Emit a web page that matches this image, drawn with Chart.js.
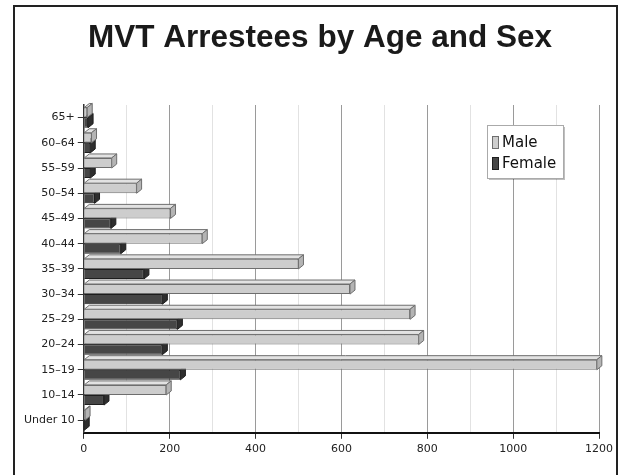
<!DOCTYPE html>
<html>
<head>
<meta charset="utf-8">
<script src="https://cdn.jsdelivr.net/npm/chart.js@4/dist/chart.umd.min.js"></script>
<style>
    html, body { margin: 0; padding: 0; background: #fff; }
    #wrap { width: 620px; height: 475px; }
</style>
</head>
<body>
<div id="wrap"><canvas id="arrestChart" width="620" height="475"></canvas></div>
<script>
// Data (bottom to top)
const ageGroups = ['Under 10', '10–14', '15–19', '20–24', '25–29', '30–34', '35–39',
    '40–44', '45–49', '50–54', '55–59', '60–64', '65+'];
const maleCounts = [3, 192, 1195, 780, 760, 620, 500, 276, 202, 123, 65, 18, 8];
const femaleCounts = [1, 47, 225, 183, 218, 183, 140, 86, 63, 25, 15, 15, 10];
const chartTitle = 'MVT Arrestees by Age and Sex';
const xMax = 1200;
const xStep = 100;
const labelStep = 200;

// 3D offset of the bar extrusion
const DEPTH_X = 5;
const DEPTH_Y = -4;

// Page frame, white background and title
const framePlugin = {
    id: 'frame',
    beforeDraw(chart) {
        const ctx = chart.ctx;
        ctx.save();
        ctx.fillStyle = '#fff';
        ctx.fillRect(0, 0, chart.width, chart.height);
        ctx.strokeStyle = '#222';
        ctx.lineWidth = 2;
        ctx.strokeRect(14, 6, 603, 480);
        ctx.fillStyle = '#1a1a1a';
        ctx.font = 'bold 31.5px "Liberation Sans", Arial, sans-serif';
        ctx.textAlign = 'center';
        ctx.textBaseline = 'alphabetic';
        ctx.fillText(chartTitle, 320, 47);
        ctx.restore();
    }
};

function poly(ctx, pts, fill, stroke) {
    ctx.beginPath();
    ctx.moveTo(pts[0][0], pts[0][1]);
    for (let i = 1; i < pts.length; i++) ctx.lineTo(pts[i][0], pts[i][1]);
    ctx.closePath();
    ctx.fillStyle = fill;
    ctx.fill();
    ctx.strokeStyle = stroke;
    ctx.lineWidth = 1;
    ctx.stroke();
}

// Top and side faces for each bar
const extrudePlugin = {
    id: 'extrude',
    afterDatasetDraw(chart, args) {
        const ctx = chart.ctx;
        const ds = chart.data.datasets[args.index];
        ctx.save();
        args.meta.data.forEach(bar => {
            const p = bar.getProps(['x', 'y', 'base', 'height'], true);
            const top = p.y - p.height / 2;
            const bot = p.y + p.height / 2;
            poly(ctx, [[p.base, top], [p.x, top], [p.x + DEPTH_X, top + DEPTH_Y], [p.base + DEPTH_X, top + DEPTH_Y]],
                ds.topColor, ds.borderColor);
            poly(ctx, [[p.x, top], [p.x, bot], [p.x + DEPTH_X, bot + DEPTH_Y], [p.x + DEPTH_X, top + DEPTH_Y]],
                ds.sideColor, ds.borderColor);
        });
        ctx.restore();
    }
};

// Boxed legend inside the plot
const boxLegendPlugin = {
    id: 'boxLegend',
    afterDraw(chart) {
        const ctx = chart.ctx;
        const x = 487, y = 125, w = 76, h = 53;
        ctx.save();
        ctx.fillStyle = 'rgba(0,0,0,0.25)';
        ctx.fillRect(x + 2, y + 2, w, h);
        ctx.fillStyle = '#fff';
        ctx.fillRect(x, y, w, h);
        ctx.strokeStyle = '#aaa';
        ctx.lineWidth = 1;
        ctx.strokeRect(x + 0.5, y + 0.5, w, h);
        ctx.font = '15px "DejaVu Sans"';
        ctx.textBaseline = 'alphabetic';
        chart.data.datasets.forEach((ds, i) => {
            const sy = y + 11 + i * 21;
            ctx.fillStyle = ds.backgroundColor;
            ctx.fillRect(x + 5, sy, 6, 12);
            ctx.strokeStyle = ds.borderColor;
            ctx.strokeRect(x + 5.5, sy + 0.5, 6, 12);
            ctx.fillStyle = '#111';
            ctx.fillText(ds.label, x + 15, sy + 11);
        });
        ctx.restore();
    }
};

new Chart(document.getElementById('arrestChart'), {
    type: 'bar',
    data: {
        labels: ageGroups,
        datasets: [
            {
                label: 'Male',
                data: maleCounts,
                backgroundColor: '#cdcdcd',
                borderColor: '#6e6e6e',
                topColor: '#e2e2e2',
                sideColor: '#b4b4b4',
                borderWidth: 1,
                borderSkipped: 'start'
            },
            {
                label: 'Female',
                data: femaleCounts,
                backgroundColor: '#464646',
                borderColor: '#1e1e1e',
                topColor: '#5c5c5c',
                sideColor: '#2e2e2e',
                borderWidth: 1,
                borderSkipped: 'start'
            }
        ]
    },
    options: {
        indexAxis: 'y',
        responsive: false,
        animation: false,
        categoryPercentage: 0.8,
        barPercentage: 1.0,
        layout: {
            padding: { top: 105, left: 21, right: 21, bottom: 15 }
        },
        plugins: {
            legend: { display: false },
            tooltip: { enabled: false },
            title: { display: false }
        },
        scales: {
            x: {
                min: 0,
                max: xMax,
                border: { color: '#111', width: 2 },
                grid: {
                    color: c => (c.tick.value % labelStep === 0 ? '#9a9a9a' : '#e2e2e2'),
                    tickColor: c => (c.tick.value % labelStep === 0 ? '#333' : 'rgba(0,0,0,0)'),
                    tickLength: 6
                },
                ticks: {
                    stepSize: xStep,
                    autoSkip: false,
                    maxRotation: 0,
                    padding: 4,
                    color: '#222',
                    font: { family: '"DejaVu Sans", sans-serif', size: 11 },
                    callback: v => (v % labelStep === 0 ? v : '')
                }
            },
            y: {
                reverse: true,
                border: { color: '#333', width: 1.5 },
                grid: {
                    offset: false,
                    color: 'rgba(0,0,0,0)',
                    tickColor: '#333',
                    tickLength: 6
                },
                ticks: {
                    padding: 3,
                    color: '#222',
                    font: { family: '"DejaVu Sans", sans-serif', size: 11 }
                }
            }
        }
    },
    plugins: [framePlugin, extrudePlugin, boxLegendPlugin]
});
</script>
</body>
</html>
